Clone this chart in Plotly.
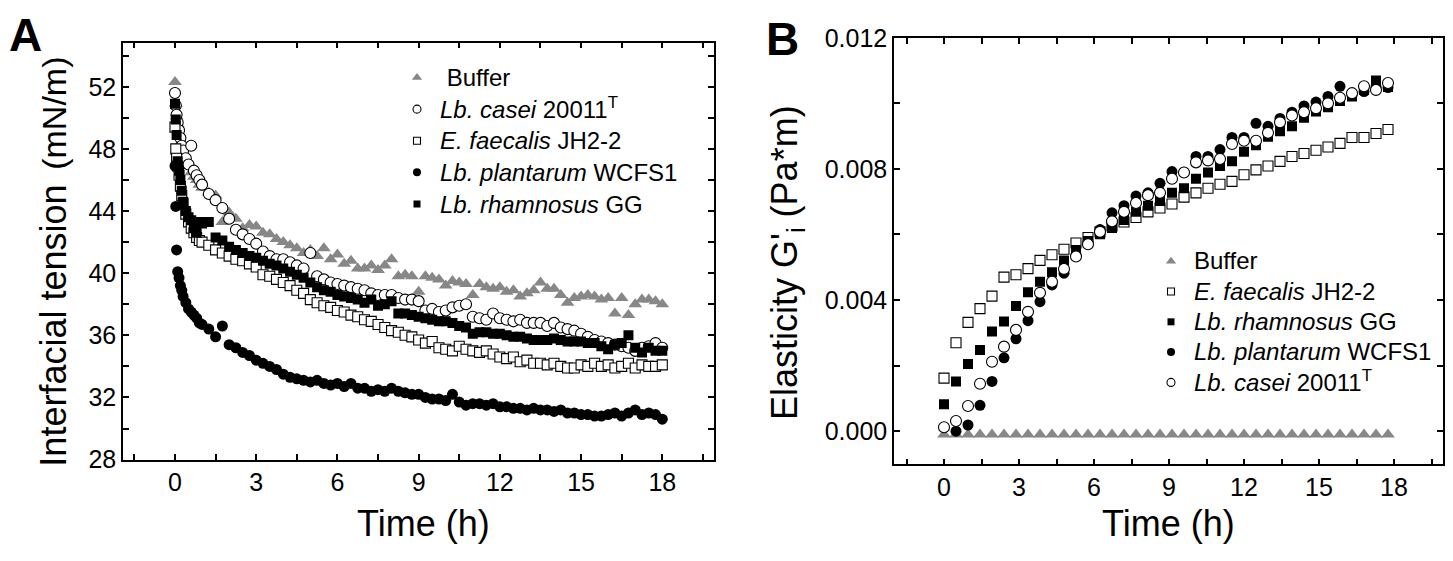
import plotly.graph_objects as go

FONT = "Arial, Liberation Sans, sans-serif"
GRAY = "#878787"

# ---------------- panel A: interfacial tension (mN/m) ----------------
time_a = [0, 0.03, 0.06, 0.1, 0.15, 0.2, 0.25, 0.3, 0.4, 0.5, 0.6, 0.7, 0.8, 0.9, 1.0,
          1.25, 1.5, 1.75, 2.0, 2.25, 2.5, 2.75, 3.0, 3.25, 3.5, 3.75, 4.0, 4.25, 4.5, 4.75,
          5.0, 5.25, 5.5, 5.75, 6.0, 6.25, 6.5, 6.75, 7.0, 7.25, 7.5, 7.75, 8.0, 8.25, 8.5,
          8.75, 9.0, 9.25, 9.5, 9.75, 10.0, 10.25, 10.5, 10.75, 11.0, 11.25, 11.5, 11.75,
          12.0, 12.25, 12.5, 12.75, 13.0, 13.25, 13.5, 13.75, 14.0, 14.25, 14.5, 14.75,
          15.0, 15.25, 15.5, 15.75, 16.0, 16.25, 16.5, 16.75, 17.0, 17.25, 17.5, 17.75, 18.0]

buffer_a = [52.3, 50.9, 50.1, 49.6, 49.0, 48.4, 48.0, 47.6, 47.2, 46.9, 46.5, 46.2, 46.0, 45.7, 45.5,
            45.2, 45.0, 43.3, 43.9, 43.5, 42.9, 43.1, 43.0, 42.6, 42.5, 42.2, 42.0, 41.8, 41.6, 41.3,
            41.5, 41.1, 41.6, 40.9, 41.2, 40.6, 40.8, 40.3, 40.3, 40.5, 40.2, 40.5, 40.9, 39.8, 39.9,
            39.8, 38.8, 39.8, 39.7, 39.6, 39.2, 39.5, 39.4, 39.3, 38.6, 39.3, 39.1, 39.0,
            39.1, 38.8, 38.9, 38.5, 38.7, 38.9, 39.4, 39.0, 39.0, 38.6, 38.1, 38.4,
            38.5, 38.6, 38.5, 38.3, 38.4, 37.4, 38.4, 37.3, 38.0, 38.3, 38.3, 38.2, 38.0]

casei_a = [51.6, 50.8, 50.2, 49.7, 49.2, 48.7, 48.2, 47.9, 47.4, 47.0, 48.2, 46.6, 46.3, 46.0, 45.7,
           45.1, 44.7, 44.2, 43.5, 42.8, 42.5, 42.2, 41.9, 41.4, 41.1, 40.9, 40.9, 40.7, 40.5, 40.3,
           41.3, 39.8, 39.6, 39.4, 39.3, 39.2, 39.1, 39.0, 38.9, 38.7, 38.6, 38.6, 38.6, 38.4, 38.3,
           38.3, 38.2, 37.6, 37.7, 37.5, 37.6, 37.8, 37.9, 38.0, 37.2, 37.1, 37.0, 37.4,
           37.1, 37.0, 36.9, 37.0, 36.8, 36.8, 36.8, 36.6, 36.8, 36.5, 36.4, 36.3,
           36.1, 35.9, 35.7, 35.6, 35.5, 35.4, 35.3, 35.2, 35.0, 35.2, 35.3, 35.5, 35.2]

faecalis_a = [49.4, 48.0, 47.4, 46.9, 46.3, 45.6, 45.0, 44.5, 43.8, 43.3, 42.9, 42.6, 42.3, 42.1, 42.0,
              41.8, 41.5, 41.3, 41.1, 40.9, 40.8, 40.6, 40.4, 39.9, 39.8, 39.6, 39.4, 39.2, 38.9, 38.7,
              38.3, 38.1, 37.9, 37.8, 37.6, 37.5, 37.3, 37.2, 37.0, 36.9, 36.7, 36.5, 36.3, 36.2, 36.0,
              35.9, 35.7, 35.5, 35.6, 35.2, 35.1, 35.0, 35.3, 35.1, 35.0, 34.9, 35.0, 34.8,
              34.6, 34.5, 34.6, 34.3, 34.4, 34.2, 34.2, 34.1, 34.2, 34.0, 33.9, 33.9,
              34.1, 34.0, 34.2, 34.0, 34.1, 33.9, 34.0, 34.2, 33.9, 34.1, 34.0, 34.0, 34.1]

plantarum_a = [46.9, 44.3, 41.5, 40.1, 39.7, 39.2, 38.9, 38.5, 38.1, 37.7, 37.5, 37.3, 37.1, 36.8, 36.7,
               36.4, 35.9, 36.6, 35.4, 35.2, 34.9, 34.7, 34.4, 34.2, 34.0, 33.8, 33.5, 33.3, 33.2, 33.1,
               33.0, 33.1, 32.9, 32.8, 32.9, 32.7, 32.9, 32.6, 32.6, 32.4, 32.5, 32.4, 32.6, 32.4, 32.3,
               32.2, 32.2, 32.0, 31.9, 31.9, 31.8, 32.2, 31.7, 31.5, 31.6, 31.6, 31.5, 31.6,
               31.4, 31.4, 31.3, 31.3, 31.2, 31.3, 31.2, 31.2, 31.1, 31.2, 31.0, 31.0,
               30.9, 30.9, 30.8, 30.8, 30.9, 31.0, 30.8, 31.0, 31.2, 30.9, 31.0, 30.9, 30.6]

rhamnosus_a = [50.9, 49.9, 48.9, 47.2, 46.6, 46.0, 45.3, 44.6, 44.0, 43.6, 43.4, 42.9, 42.6, 43.3, 43.2,
               43.3, 42.3, 42.1, 41.7, 41.5, 41.3, 41.1, 41.0, 40.8, 40.6, 40.5, 40.3, 40.1, 39.9, 39.7,
               39.4, 39.1, 38.9, 38.8, 38.6, 38.5, 38.4, 38.3, 38.1, 38.3, 37.9, 38.0, 38.2, 37.4, 37.4,
               37.3, 37.2, 37.1, 37.0, 36.9, 36.9, 36.8, 36.6, 36.5, 36.1, 36.2, 36.2, 36.1,
               36.1, 36.0, 35.9, 35.9, 35.8, 35.7, 35.7, 35.7, 35.8, 35.7, 35.6, 35.6,
               35.6, 35.5, 35.5, 35.3, 35.1, 35.4, 35.5, 36.0, 35.2, 34.9, 35.2, 35.0, 35.0]

# ---------------- panel B: elasticity (Pa*m) ----------------
time_b = [0, 0.48, 0.96, 1.44, 1.92, 2.4, 2.88, 3.36, 3.84, 4.32, 4.8, 5.28, 5.76, 6.24, 6.72,
          7.2, 7.68, 8.16, 8.64, 9.12, 9.6, 10.08, 10.56, 11.04, 11.52, 12.0, 12.48, 12.96,
          13.44, 13.92, 14.4, 14.88, 15.36, 15.84, 16.32, 16.8, 17.28, 17.76]

buffer_b = [-0.0001, -0.0001, -0.0001, -0.0001, -0.0001, -0.0001, -0.0001, -0.0001, -0.0001, -0.0001,
            -0.0001, -0.0001, -0.0001, -0.0001, -0.0001, -0.0001, -0.0001, -0.0001, -0.0001, -0.0001,
            -0.0001, -0.0001, -0.0001, -0.0001, -0.0001, -0.0001, -0.0001, -0.0001, -0.0001, -0.0001,
            -0.0001, -0.0001, -0.0001, -0.0001, -0.0001, -0.0001, -0.0001, -0.0001]

faecalis_b = [0.00162, 0.00270, 0.00332, 0.00374, 0.00412, 0.00470, 0.00477, 0.00496, 0.00521, 0.00538,
              0.00555, 0.00574, 0.00591, 0.00608, 0.00626, 0.00638, 0.00652, 0.00669, 0.00681, 0.00693,
              0.00714, 0.00727, 0.00741, 0.00753, 0.00762, 0.00782, 0.00797, 0.00809, 0.00823, 0.00838,
              0.00847, 0.00857, 0.00867, 0.00878, 0.00896, 0.00896, 0.00908, 0.00920]

rhamnosus_b = [0.00082, 0.00152, 0.00205, 0.00248, 0.00304, 0.00335, 0.00382, 0.00424, 0.00456, 0.00485,
               0.00521, 0.00553, 0.00580, 0.00601, 0.00620, 0.00644, 0.00669, 0.00688, 0.00702, 0.00727,
               0.00741, 0.00770, 0.00789, 0.00809, 0.00823, 0.00852, 0.00872, 0.00898, 0.00915, 0.00930,
               0.00956, 0.00975, 0.00988, 0.01007, 0.01021, 0.01041, 0.01070, 0.01050]

plantarum_b = [None, 0.00000, 0.00019, 0.00079, 0.00152, 0.00224, 0.00282, 0.00337, 0.00395, 0.00446,
               0.00482, 0.00538, 0.00575, 0.00615, 0.00666, 0.00688, 0.00717, 0.00727, 0.00756, 0.00792,
               0.00790, 0.00838, 0.00838, 0.00859, 0.00896, 0.00896, 0.00939, 0.00930, 0.00954, 0.00973,
               0.00992, 0.01004, 0.01021, 0.01052, 0.01026, 0.01036, 0.01050, 0.01048]

casei_b = [0.00012, 0.00031, 0.00077, 0.00145, 0.00212, 0.00258, 0.00309, 0.00364, 0.00422, 0.00456,
           0.00495, 0.00533, 0.00570, 0.00608, 0.00640, 0.00669, 0.00696, 0.00720, 0.00727, 0.00770,
           0.00789, 0.00820, 0.00826, 0.00830, 0.00876, 0.00886, 0.00886, 0.00910, 0.00942, 0.00963,
           0.00973, 0.00985, 0.01000, 0.01017, 0.01031, 0.01052, 0.01041, 0.01062]


def big(label):
    # legend text is drawn a bit larger than the legend's row pitch font
    return '<span style="font-size:24px">' + label + '</span>'


NAMES = {
    "buffer": "Buffer",
    "casei": "<i>Lb. casei</i> 20011<sup>T</sup>",
    "faecalis": "<i>E. faecalis</i> JH2-2",
    "plantarum": "<i>Lb. plantarum</i> WCFS1",
    "rhamnosus": "<i>Lb. rhamnosus</i> GG",
}

STYLES = {
    "buffer": dict(symbol="triangle-up", color=GRAY, line=dict(width=0)),
    "casei": dict(symbol="circle", color="white", line=dict(color="black", width=1.1)),
    "faecalis": dict(symbol="square", color="white", line=dict(color="black", width=1.1)),
    "plantarum": dict(symbol="circle", color="black", line=dict(width=0)),
    "rhamnosus": dict(symbol="square", color="black", line=dict(width=0)),
}
SIZES = {"buffer": 12, "casei": 11, "faecalis": 10, "plantarum": 11, "rhamnosus": 10}
LEGEND_SIZES = {"buffer": 9, "casei": 8, "faecalis": 7, "plantarum": 8, "rhamnosus": 7}

fig = go.Figure()


def add_series(key, t, vals, xa, ya, legend, label):
    # data markers (no legend entry)
    fig.add_trace(go.Scatter(
        x=t, y=vals, mode="markers", name=label, showlegend=False,
        marker=dict(size=SIZES[key], **STYLES[key]),
        xaxis=xa, yaxis=ya,
    ))
    # legend entry with the smaller symbols used in the original key
    fig.add_trace(go.Scatter(
        x=[None], y=[None], mode="markers", name=big(label), showlegend=True,
        marker=dict(size=LEGEND_SIZES[key], **STYLES[key]),
        xaxis=xa, yaxis=ya, legend=legend, legendgroup=legend + key,
    ))


panel_a = [("buffer", buffer_a), ("casei", casei_a), ("faecalis", faecalis_a),
           ("plantarum", plantarum_a), ("rhamnosus", rhamnosus_a)]
for key, vals in panel_a:
    label = "&nbsp;" + NAMES[key] if key == "buffer" else NAMES[key]
    add_series(key, time_a, vals, "x", "y", "legend", label)

panel_b = [("buffer", buffer_b), ("faecalis", faecalis_b), ("rhamnosus", rhamnosus_b),
           ("plantarum", plantarum_b), ("casei", casei_b)]
for key, vals in panel_b:
    add_series(key, time_b, vals, "x2", "y2", "legend2", NAMES[key])

W, H = 1453, 561


def px_x(p):
    return p / W


def px_y(p):
    return 1 - p / H


axis_common = dict(
    showline=True, linecolor="black", linewidth=1.5, mirror="ticks",
    ticks="inside", ticklen=6, tickwidth=1.5, tickcolor="black",
    showgrid=False, zeroline=False,
    tickfont=dict(family=FONT, size=25, color="black"),
)
minor_common = dict(ticks="inside", ticklen=6, tickwidth=1.5, tickcolor="black", showgrid=False)

legend_common = dict(
    bgcolor="rgba(0,0,0,0)", traceorder="grouped", tracegroupgap=0,
    xanchor="left", yanchor="top", itemwidth=36,
)

fig.update_layout(
    width=W, height=H,
    margin=dict(l=0, r=0, t=0, b=0),
    paper_bgcolor="white", plot_bgcolor="white",
    font=dict(family=FONT, color="black"),
    xaxis=dict(domain=[px_x(123), px_x(714)], range=[-1.92, 19.91], anchor="y",
               tickmode="linear", tick0=0, dtick=3,
               minor=dict(dtick=1.5, tick0=0, **minor_common), **axis_common),
    yaxis=dict(domain=[px_y(469), px_y(30)], range=[28, 54.85], anchor="x",
               tickmode="linear", tick0=28, dtick=4,
               minor=dict(dtick=2, tick0=28, **minor_common), **axis_common),
    xaxis2=dict(domain=[px_x(894), px_x(1443)], range=[-2.0, 19.96], anchor="y2",
                tickmode="linear", tick0=0, dtick=3,
                minor=dict(dtick=1.5, tick0=0, **minor_common), **axis_common),
    yaxis2=dict(domain=[px_y(474), px_y(25)], range=[-0.00101, 0.012], anchor="x2",
                tickmode="linear", tick0=0, dtick=0.004, tickformat=".3f",
                minor=dict(dtick=0.002, tick0=0, **minor_common), **axis_common),
    legend=dict(x=px_x(394), y=px_y(45), font=dict(family=FONT, size=22, color="black"),
                **legend_common),
    legend2=dict(x=px_x(1148), y=px_y(239), font=dict(family=FONT, size=21, color="black"),
                 **legend_common),
    showlegend=True,
)

ann = [
    dict(text="<b>A</b>", x=px_x(25), y=px_y(22), font=dict(size=46)),
    dict(text="<b>B</b>", x=px_x(782), y=px_y(26), font=dict(size=46)),
    dict(text="Interfacial tension", x=px_x(54), y=px_y(328), textangle=-90, font=dict(size=36)),
    dict(text="(mN/m)", x=px_x(54), y=px_y(104), textangle=-90, font=dict(size=34)),
    dict(text="Elasticity G'<sub>i</sub> (Pa*m)", x=px_x(787), y=px_y(262), textangle=-90,
         font=dict(size=36)),
    dict(text="Time (h)", x=px_x(423), y=px_y(536), font=dict(size=36)),
    dict(text="Time (h)", x=px_x(1168), y=px_y(536), font=dict(size=36)),
]
for a in ann:
    a.update(xref="paper", yref="paper", showarrow=False, xanchor="center", yanchor="middle")
    a["font"].update(family=FONT, color="black")
    fig.add_annotation(**a)

# let the 1453x561 figure fill the window exactly (no default page margin)
fig.write_html("out.html", config={"displayModeBar": False},
               post_script="document.body.style.margin='0';")
